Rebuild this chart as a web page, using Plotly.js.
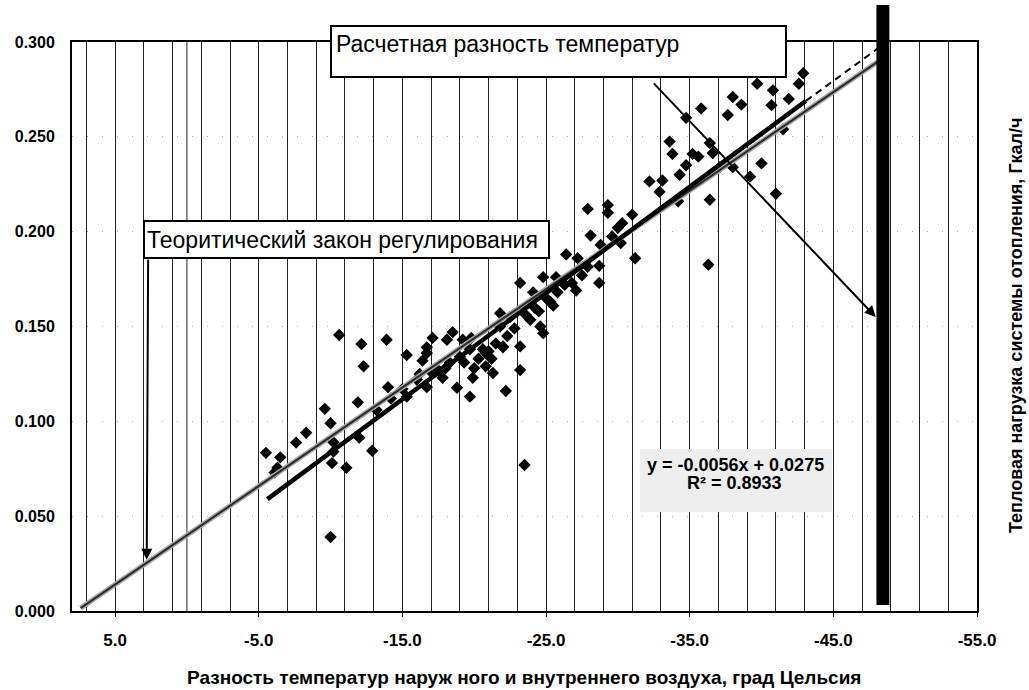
<!DOCTYPE html>
<html>
<head>
<meta charset="utf-8">
<script src="https://cdn.plot.ly/plotly-3.0.1.min.js"></script>
<style>html,body{margin:0;padding:0;background:#fff;}#chart{width:1029px;height:690px;}</style>
</head>
<body>
<div id="chart"></div>
<script>
// ---- data ----
const pointX = [
  -5.5,-6.5,-6.3,-6.1,-7.6,-9.6,-10.0,-10.2,-10.2,-10.1,-11.1,-10.0,
  -12.0,-12.9,-11.9,-10.6,-12.15,-13.9,-12.3,-15.3,-16.4,-17.1,-16.7,-18.5,
  -18.1,-19.8,-19.7,-17.8,-18.8,-19.7,-19.9,-16.7,-14.0,-15.3,
  -27.9,-29.3,-29.3,-28.1,-32.2,-33.1,-32.9,-34.3,-34.75,-33.8,-35.2,-33.6,
  -36.4,-36.6,-36.4,-36.3,-34.2,-31.0,-30.3,-30.0,-29.6,-30.2,-28.8,-31.2,
  -28.7,-28.7,-27.9,-27.2,-26.4,-27.1,-25.7,-24.8,-23.2,-24.1,-25.5,-24.6,
  -24.8,-23.9,-23.2,-23.2,-22.2,-16.7,-19.2,-20.8,-21.8,-22.0,-20.8,-21.3,
  -21.8,-22.5,
  -42.9,-42.6,-41.9,-40.8,-40.7,-39.7,-38.0,-38.6,-37.65,-35.8,-34.75,-35.6,
  -37.1,-38.0,-39.2,-40.0,-41.5,-41.0,
  -23.5,
  -17.5,-18.3,-19.0,-16.0,-15.0,-14.2,
  -20.3,-21.0,-21.5,-22.3,-22.8,-23.6,-24.2,-25.0,-25.8,-26.3,
  -16.2,-17.0,-18.0,-19.3,-20.0,-20.6,-21.2,-22.0,-24.5,-25.3,-26.8,-27.5,-13.2,-8.3
];
const pointY = [
  0.0834,0.081,0.0755,0.073,0.0888,0.1066,0.099,0.089,0.084,0.078,0.0755,0.039,
  0.0914,0.0845,0.110,0.1455,0.1408,0.143,0.129,0.135,0.132,0.144,0.139,0.147,
  0.143,0.144,0.138,0.123,0.1177,0.113,0.123,0.118,0.118,0.113,
  0.212,0.214,0.210,0.198,0.2265,0.227,0.221,0.230,0.235,0.241,0.241,0.2475,
  0.2467,0.2415,0.2168,0.1826,0.216,0.209,0.2045,0.202,0.1975,0.194,0.193,0.186,
  0.182,0.173,0.1815,0.186,0.188,0.169,0.176,0.176,0.173,0.168,0.161,0.150,
  0.1465,0.1535,0.1395,0.127,0.116,0.136,0.143,0.136,0.150,0.1395,0.129,0.1255,
  0.157,0.155,
  0.2835,0.278,0.270,0.2745,0.2667,0.278,0.271,0.267,0.2615,0.265,0.260,0.2396,
  0.234,0.234,0.229,0.236,0.254,0.220,
  0.077,
  0.127,0.131,0.134,0.122,0.117,0.112,
  0.133,0.137,0.141,0.145,0.149,0.156,0.160,0.165,0.168,0.172,
  0.125,0.126,0.128,0.131,0.128,0.138,0.133,0.139,0.158,0.163,0.173,0.177,0.106,0.094
];
// regression trend line (solid) and its forecast part (dashed)
const trendX = [-5.6, -43.1];
const trendY = [0.059, 0.269];
const forecastX = [-43.1, -49.8];
const forecastY = [0.269, 0.306];
// theoretical regulation law (grey line)
const theoryX = [7.4, -48.3];
const theoryY = [0.0015, 0.2907];
// design temperature difference (thick bar)
const designX = [-48.0, -48.9];
// tick labels
const xTickVals = [5, -5, -15, -25, -35, -45, -55];
const xTickText = ['5.0', '-5.0', '-15.0', '-25.0', '-35.0', '-45.0', '-55.0'];
const yTickVals = [0, 0.05, 0.10, 0.15, 0.20, 0.25, 0.30];
const yTickText = ['0.000', '0.050', '0.100', '0.150', '0.200', '0.250', '0.300'];
// texts
const xTitle = 'Разность температур наруж ного и внутреннего воздуха, град Цельсия';
const yTitle = 'Тепловая нагрузка системы отопления, Гкал/ч';
const designLabel = 'Расчетная разность температур';
const theoryLabel = 'Теоритический закон регулирования';
const eqLine1 = 'y = -0.0056x + 0.0275';
const eqLine2 = 'R² = 0.8933';
// arrows: [tail x, tail y, head x, head y]
const designArrow = [-32.4, 0.279, -47.95, 0.155];
const theoryArrow = [2.7, 0.186, 2.8, 0.027];

const FONT = 'Arial, "Liberation Sans", sans-serif';

const traces = [
  {x: pointX, y: pointY, type: 'scatter', mode: 'markers',
   marker: {symbol: 'diamond', size: 9.5, color: '#000'}, hoverinfo: 'skip'},
  {x: theoryX, y: theoryY, type: 'scatter', mode: 'lines',
   line: {color: '#a8a8a8', width: 5}, hoverinfo: 'skip'},
  {x: theoryX, y: theoryY, type: 'scatter', mode: 'lines',
   line: {color: '#2a2a2a', width: 2}, hoverinfo: 'skip'},
  {x: trendX, y: trendY, type: 'scatter', mode: 'lines',
   line: {color: '#000', width: 4.5}, hoverinfo: 'skip'},
  {x: forecastX, y: forecastY, type: 'scatter', mode: 'lines',
   line: {color: '#000', width: 2, dash: '7px,5px'}, hoverinfo: 'skip'}
];

const layout = {
  width: 1029, height: 690,
  margin: {l: 72, r: 52, t: 42, b: 79},
  paper_bgcolor: '#fff', plot_bgcolor: '#fff',
  showlegend: false,
  font: {family: FONT, color: '#000'},
  xaxis: {
    range: [8, -55], autorange: false,
    tickmode: 'array', tickvals: xTickVals, ticktext: xTickText,
    tickfont: {size: 17, weight: 700, family: FONT},
    ticks: 'outside', ticklen: 4, tickcolor: '#000',
    ticklabelstandoff: 9,
    showgrid: true, gridcolor: '#222', gridwidth: 1,
    minor: {tickmode: 'linear', tick0: -55, dtick: 2, showgrid: true,
            gridcolor: '#222', gridwidth: 1, ticks: ''},
    showline: true, linecolor: '#000', linewidth: 2, mirror: true,
    zeroline: false
  },
  yaxis: {
    range: [0, 0.3], autorange: false,
    tickmode: 'array', tickvals: yTickVals, ticktext: yTickText,
    tickfont: {size: 16, weight: 700, family: FONT},
    ticks: '', ticklabelstandoff: 12,
    showgrid: true, gridcolor: 'rgba(0,0,0,0.35)', gridwidth: 1, griddash: '1px,14px',
    showline: true, linecolor: '#000', linewidth: 2, mirror: true,
    zeroline: false
  },
  shapes: [
    {type: 'line', xref: 'x', yref: 'paper', x0: 0, x1: 0, y0: 0, y1: 1,
     line: {color: '#222', width: 1}, layer: 'below'},
    {type: 'rect', xref: 'x', yref: 'paper', x0: designX[0], x1: designX[1],
     y0: 0.0105, y1: 1.065, fillcolor: '#000', line: {width: 0}, layer: 'above'},
    // background patch of the equation label
    {type: 'rect', xref: 'paper', yref: 'paper', x0: 0.6276, x1: 0.8398, y0: 0.174, y1: 0.2847,
     fillcolor: 'rgb(238,238,238)', line: {width: 0}, layer: 'above'}
  ],
  annotations: [
    {xref: 'x', yref: 'y', axref: 'x', ayref: 'y', text: '',
     x: designArrow[2], y: designArrow[3], ax: designArrow[0], ay: designArrow[1],
     showarrow: true, arrowhead: 2, arrowsize: 1.1, arrowwidth: 2, arrowcolor: '#000'},
    {xref: 'x', yref: 'y', axref: 'x', ayref: 'y', text: '',
     x: theoryArrow[2], y: theoryArrow[3], ax: theoryArrow[0], ay: theoryArrow[1],
     showarrow: true, arrowhead: 2, arrowsize: 1.1, arrowwidth: 2, arrowcolor: '#000'},
    {xref: 'paper', yref: 'paper', x: 0.5376, y: 0.9833, xanchor: 'center', yanchor: 'middle',
     text: designLabel, showarrow: false, align: 'left', valign: 'top',
     width: 445, height: 41, borderpad: 4, borderwidth: 2, bordercolor: '#000', bgcolor: '#fff',
     font: {size: 23, family: FONT, color: '#000'}},
    {xref: 'paper', yref: 'paper', x: 0.3033, y: 0.6529, xanchor: 'center', yanchor: 'middle',
     text: theoryLabel, showarrow: false, align: 'left', valign: 'middle',
     width: 399, height: 31, borderpad: 2, borderwidth: 2, bordercolor: '#000', bgcolor: '#fff',
     font: {size: 23, family: FONT, color: '#000'}},
    {xref: 'paper', yref: 'paper', x: 0.7337, y: 0.2566, xanchor: 'center', yanchor: 'middle',
     text: eqLine1, showarrow: false, align: 'center',
     font: {size: 18, weight: 700, family: FONT, color: '#000'}},
    {xref: 'paper', yref: 'paper', x: 0.7315, y: 0.2250, xanchor: 'center', yanchor: 'middle',
     text: eqLine2, showarrow: false, align: 'center',
     font: {size: 18, weight: 700, family: FONT, color: '#000'}},
    {xref: 'paper', yref: 'paper', x: 0.4994, y: -0.116, xanchor: 'center', yanchor: 'middle',
     text: xTitle, showarrow: false,
     font: {size: 19, weight: 700, family: FONT, color: '#000'}},
    {xref: 'paper', yref: 'paper', x: 1.0431, y: 0.5026, xanchor: 'center', yanchor: 'middle',
     text: yTitle, showarrow: false, textangle: -90,
     font: {size: 18, weight: 700, family: FONT, color: '#000'}}
  ]
};

Plotly.newPlot('chart', traces, layout, {displayModeBar: false, staticPlot: true});
</script>
</body>
</html>
